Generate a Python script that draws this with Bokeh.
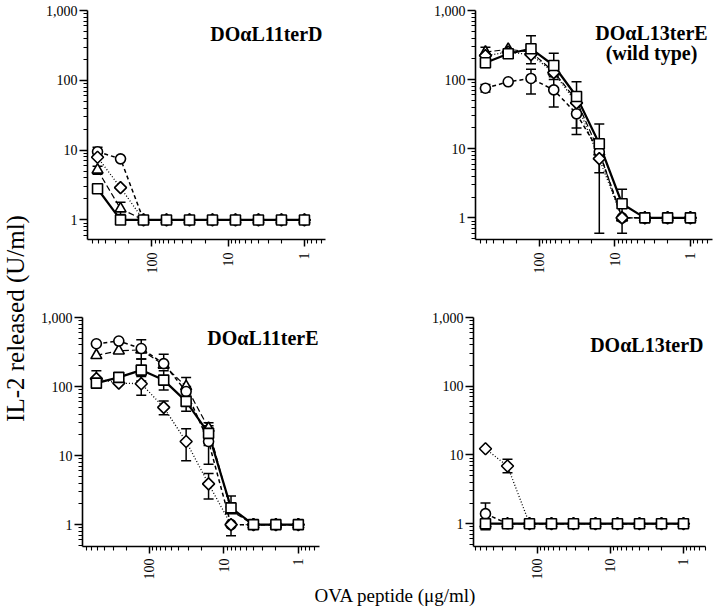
import math
from bokeh.plotting import figure
from bokeh.models import (ColumnDataSource, Whisker, TeeHead, Label, FixedTicker,
                          NumeralTickFormatter, Range1d)
from bokeh.layouts import row, column
from bokeh.embed import file_html
from bokeh.resources import INLINE

N = None
ova_ug_ml = [512, 256, 128, 64, 32, 16, 8, 4, 2, 1]

# Panel A: DOαL11terD
a_square = [2.8, 1, 1, 1, 1, 1, 1, 1, 1, 1]
a_square_lo = [N, N, N, N, N, N, N, N, N, N]
a_square_hi = [N, N, N, N, N, N, N, N, N, N]
a_triangle = [5.2, 1.45, 1, 1, 1, 1, 1, 1, 1, 1]
a_triangle_lo = [4.5, 1.2, N, N, N, N, N, N, N, N]
a_triangle_hi = [5.9, 1.8, N, N, N, N, N, N, N, N]
a_diamond = [7.9, 2.9, 1, 1, 1, 1, 1, 1, 1, 1]
a_diamond_lo = [N, N, N, N, N, N, N, N, N, N]
a_diamond_hi = [N, N, N, N, N, N, N, N, N, N]
a_circle = [9.5, 7.5, 1, 1, 1, 1, 1, 1, 1, 1]
a_circle_lo = [8.3, N, N, N, N, N, N, N, N, N]
a_circle_hi = [11, N, N, N, N, N, N, N, N, N]

# Panel B: DOαL13terE (wild type)
b_square = [175, 237, 280, 160, 57, 11.8, 1.6, 1, 1, 1]
b_square_lo = [150, N, 170, 110, 35, 0.6, 1.0, N, N, N]
b_square_hi = [205, N, 430, 241, 93, 22.7, 2.6, N, N, N]
b_triangle = [250, 275, 250, 130, 50, 9, 1, 1, 1, 1]
b_triangle_lo = [210, N, N, N, N, N, N, N, N, N]
b_triangle_hi = [295, N, N, N, N, N, N, N, N, N]
b_diamond = [222, 250, 230, 126, 46, 7.2, 1, 1, 1, 1]
b_diamond_lo = [N, N, N, N, 20, 4.5, 0.6, N, N, N]
b_diamond_hi = [N, N, N, N, N, N, N, N, N, N]
b_circle = [75, 93, 104, 71, 32, 9, 1, 1, 1, 1]
b_circle_lo = [66, N, 62, 40, 16, N, N, N, N, N]
b_circle_hi = [85, N, 141, 100, 50, N, N, N, N, N]

# Panel C: DOαL11terE
c_square = [112, 136, 173, 124, 61, 21, 1.75, 1, 1, 1]
c_square_lo = [95, N, 120, 89, 44, 14, N, N, N, N]
c_square_hi = [N, N, 250, 170, 85, 27, 2.6, N, N, N]
c_triangle = [283, 330, 340, 205, 100, 25, 1.6, 1, 1, 1]
c_triangle_lo = [N, N, N, N, N, N, N, N, N, N]
c_triangle_hi = [N, N, N, 293, 135, 30, N, N, N, N]
c_diamond = [130, 112, 110, 50, 16, 3.9, 1, 1, 1, 1]
c_diamond_lo = [N, N, 75, 39, 8.4, 2.36, 0.69, N, N, N]
c_diamond_hi = [170, N, 140, 62, 24.5, 5.5, N, N, N, N]
c_circle = [417, 456, 355, 215, 85, 16, 1, 1, 1, 1]
c_circle_lo = [N, N, 250, N, N, 7.5, N, N, N, N]
c_circle_hi = [N, N, 478, N, N, N, N, N, N, N]

# Panel D: DOαL13terD
d_square = [1, 1, 1, 1, 1, 1, 1, 1, 1, 1]
d_square_lo = [0.82, N, N, N, N, N, N, N, N, N]
d_square_hi = [N, N, N, N, N, N, N, N, N, N]
d_triangle = [1, 1, 1, 1, 1, 1, 1, 1, 1, 1]
d_triangle_lo = [N, N, N, N, N, N, N, N, N, N]
d_triangle_hi = [N, N, N, N, N, N, N, N, N, N]
d_diamond = [12.3, 6.9, 1, 1, 1, 1, 1, 1, 1, 1]
d_diamond_lo = [N, 5.5, N, N, N, N, N, N, N, N]
d_diamond_hi = [N, 8.7, N, N, N, N, N, N, N, N]
d_circle = [1.4, 1, 1, 1, 1, 1, 1, 1, 1, 1]
d_circle_lo = [N, N, N, N, N, N, N, N, N, N]
d_circle_hi = [2.0, N, N, N, N, N, N, N, N, N]

x_major = [1, 10, 100]
y_major = [1, 10, 100, 1000]
minor_all = [m * 10 ** k for k in range(-1, 3) for m in range(2, 10)] + [0.6, 0.7, 0.8, 0.9]

SERIF = "Liberation Serif"

STYLE = {
    "triangle": dict(marker="triangle", size=11, angle=0, dash="6 3", lw=1.2),
    "diamond": dict(marker="square", size=8.5, angle=math.pi / 4, dash="1 2", lw=1.3),
    "circle": dict(marker="circle", size=10, angle=0, dash="4 3", lw=1.5),
    "square": dict(marker="square", size=10, angle=0, dash="solid", lw=2.2),
}


def make_panel(series, width, height, mb, frame, xr, yr, titles, xstand):
    # mb: (left, right, top, bottom); frame: page coords (x0, x1, y0, y1)
    p = figure(width=width, height=height, x_axis_type="log", y_axis_type="log",
               x_range=Range1d(*xr), y_range=Range1d(*yr),
               output_backend="svg", toolbar_location=None,
               min_border_left=mb[0], min_border_right=mb[1],
               min_border_top=mb[2], min_border_bottom=mb[3])
    p.outline_line_color = None
    p.grid.visible = False
    p.background_fill_color = "white"
    p.border_fill_color = "white"

    for ax in (p.xaxis[0], p.yaxis[0]):
        ax.axis_line_color = "black"
        ax.axis_line_width = 1.6
        ax.major_tick_line_color = "black"
        ax.major_tick_line_width = 1.5
        ax.minor_tick_line_color = "black"
        ax.minor_tick_line_width = 1.1
        ax.major_tick_in = 0
        ax.minor_tick_in = 0
        ax.minor_tick_out = 4
        ax.major_label_text_font = SERIF
        ax.major_label_text_color = "black"
        ax.formatter = NumeralTickFormatter(format="0,0")
    p.xaxis.ticker = FixedTicker(ticks=x_major, minor_ticks=minor_all)
    p.yaxis.ticker = FixedTicker(ticks=y_major, minor_ticks=minor_all)
    p.xaxis.major_tick_out = 7
    p.yaxis.major_tick_out = 8
    p.xaxis.major_label_orientation = math.pi / 2
    p.xaxis.major_label_text_font_size = "14px"
    p.yaxis.major_label_text_font_size = "14px"
    p.xaxis.major_label_standoff = xstand
    p.yaxis.major_label_standoff = 2

    order = ["triangle", "circle", "diamond", "square"]
    for name in order:
        vals, lo, hi = series[name]
        st = STYLE[name]
        p.line(ova_ug_ml, vals, line_color="black", line_width=st["lw"],
               line_dash=st["dash"])
    for name in order:
        vals, lo, hi = series[name]
        xs, los, his = [], [], []
        for xv, v, l, h in zip(ova_ug_ml, vals, lo, hi):
            if l is None and h is None:
                continue
            xs.append(xv)
            los.append(v if l is None else l)
            his.append(v if h is None else h)
        if xs:
            src = ColumnDataSource(dict(x=xs, lower=los, upper=his))
            w = Whisker(base="x", lower="lower", upper="upper", source=src,
                        dimension="height", line_color="black", line_width=1.5,
                        upper_head=TeeHead(size=10, line_color="black", line_width=1.5),
                        lower_head=TeeHead(size=10, line_color="black", line_width=1.5))
            p.add_layout(w)
    for name in order:
        vals, lo, hi = series[name]
        st = STYLE[name]
        p.scatter(ova_ug_ml, vals, marker=st["marker"], size=st["size"],
                  angle=st["angle"], fill_color="white", line_color="black",
                  line_width=1.6)

    fx0, fx1, fy0, fy1 = frame
    lx0, lx1 = math.log10(xr[0]), math.log10(xr[1])
    ly0, ly1 = math.log10(yr[0]), math.log10(yr[1])

    def to_data(px, py):
        lx = lx0 + (px - fx0) / (fx1 - fx0) * (lx1 - lx0)
        ly = ly1 - (py - fy0) / (fy1 - fy0) * (ly1 - ly0)
        return 10 ** lx, 10 ** ly

    for text, px, py, align in titles:
        xd, yd = to_data(px, py)
        p.add_layout(Label(x=xd, y=yd, text=text, text_font=SERIF,
                           text_font_size="20px", text_font_style="bold",
                           text_align=align, text_baseline="alphabetic",
                           text_color="black"))
    return p


pA = make_panel({"square": (a_square, a_square_lo, a_square_hi),
                 "triangle": (a_triangle, a_triangle_lo, a_triangle_hi),
                 "diamond": (a_diamond, a_diamond_lo, a_diamond_hi),
                 "circle": (a_circle, a_circle_lo, a_circle_hi)},
                366, 300, (53, 75, 8, 61), (87, 325, 8, 239), (693, 0.53), (0.525, 1000),
                [("DOαL11terD", 322, 32, "right")], 6)
pB = make_panel({"square": (b_square, b_square_lo, b_square_hi),
                 "triangle": (b_triangle, b_triangle_lo, b_triangle_hi),
                 "diamond": (b_diamond, b_diamond_lo, b_diamond_hi),
                 "circle": (b_circle, b_circle_lo, b_circle_hi)},
                320, 300, (75, 8, 10, 57), (475, 712, 10, 243), (693, 0.51), (0.486, 1000),
                [("DOαL13terE", 651, 33, "center"),
                 ("(wild type)", 651, 53, "center")], 6)
pC = make_panel({"square": (c_square, c_square_lo, c_square_hi),
                 "triangle": (c_triangle, c_triangle_lo, c_triangle_hi),
                 "diamond": (c_diamond, c_diamond_lo, c_diamond_hi),
                 "circle": (c_circle, c_circle_lo, c_circle_hi)},
                366, 282, (48, 81, 17, 34), (82, 319, 317, 548), (786, 0.52), (0.483, 1000),
                [("DOαL11terE", 318, 338, "right")], 5)
pD = make_panel({"square": (d_square, d_square_lo, d_square_hi),
                 "triangle": (d_triangle, d_triangle_lo, d_triangle_hi),
                 "diamond": (d_diamond, d_diamond_lo, d_diamond_hi),
                 "circle": (d_circle, d_circle_lo, d_circle_hi)},
                320, 282, (73, 15, 17, 34), (473, 705, 317, 548), (747, 0.5), (0.466, 1000),
                [("DOαL13terD", 703, 345, "right")], 5)

ylab = figure(width=34, height=608, x_range=Range1d(0, 34), y_range=Range1d(0, 608),
              x_axis_type=None, y_axis_type=None, output_backend="svg",
              toolbar_location=None, min_border=0)
ylab.outline_line_color = None
ylab.grid.visible = False
ylab.add_layout(Label(x=15, y=608 - 318, text="IL-2 released (U/ml)", angle=math.pi / 2,
                      text_font=SERIF, text_font_size="25px", text_align="center",
                      text_baseline="middle", text_color="black"))

xlab = figure(width=686, height=26, x_range=Range1d(0, 686), y_range=Range1d(0, 26),
              x_axis_type=None, y_axis_type=None, output_backend="svg",
              toolbar_location=None, min_border=0)
xlab.outline_line_color = None
xlab.grid.visible = False
xlab.add_layout(Label(x=395 - 34, y=13, text="OVA peptide (μg/ml)",
                      text_font=SERIF, text_font_size="19px", text_align="center",
                      text_baseline="alphabetic", text_color="black"))

layout = row(ylab, column(row(pA, pB), row(pC, pD), xlab))

with open("out.html", "w") as f:
    f.write(file_html(layout, INLINE))
